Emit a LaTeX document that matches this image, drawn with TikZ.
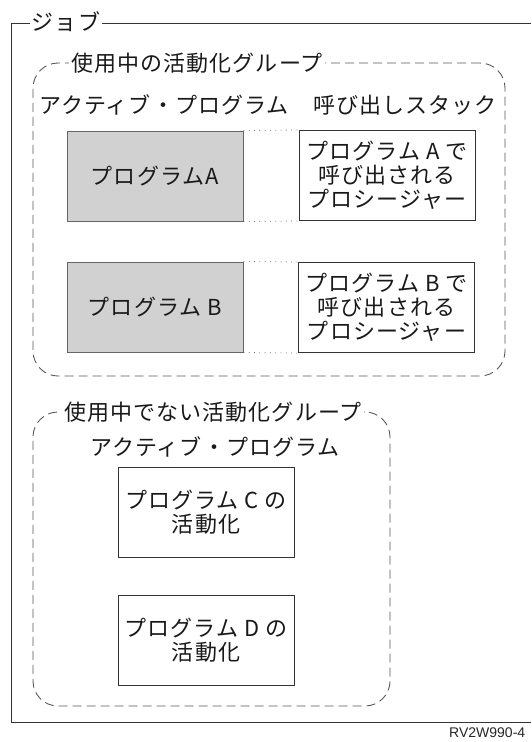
\documentclass[tikz,border=0pt]{standalone}
\usepackage{fontspec}
\setmainfont{Noto Sans CJK JP}[LetterSpace=5]
\newfontfamily\latinfont{Liberation Sans}
\begin{document}
\begin{tikzpicture}[x=1pt,y=-1pt,
  jp/.style={font=\fontsize{22}{24}\selectfont, inner sep=0pt, text=black!90},
  ttl/.style={jp, fill=white, inner xsep=2pt, inner ysep=2pt},
  grp/.style={draw=black!65, dash pattern=on 9pt off 5pt, line width=0.9pt, rounded corners=25pt},
  prog/.style={jp, draw=black!60, fill=black!18, line width=1pt, minimum width=176pt, minimum height=90pt},
  stackbox/.style={jp, draw=black!80, fill=white, line width=1pt, align=center, minimum width=176pt, minimum height=90pt},
  dots/.style={draw=black!60, line width=0.8pt, dash pattern=on 0.8pt off 4.5pt}]
\useasboundingbox (0,0) rectangle (531,742);
% job frame
\coordinate (jtr) at (531,23);
\coordinate (jtl) at (11,23);
\coordinate (jbl) at (11,722);
\coordinate (jbr) at (531,722);
\draw[line width=0.9pt, draw=black!80] (jtr) -- (jtl) -- (jbl) -- (jbr);
\node[ttl] (job) at (66,22) {ジョブ};
% active group
\node[grp, minimum width=472pt, minimum height=313pt] (ag) at (269,219.5) {};
\node[ttl] (agt) at (197,63) {使用中の活動化グループ};
\node[jp] (apa) at (164,105) {アクティブ・プログラム};
\node[jp] (cs) at (405,105) {呼び出しスタック};
\node[prog] (pa) at (155,176) {プログラムA};
\node[stackbox] (ca) at (387,175.5) {プログラム A で\\呼び出される\\プロシージャー};
\node[prog] (pb) at (155,307) {プログラム B};
\node[stackbox] (cb) at (386.5,307.5) {プログラム B で\\呼び出される\\プロシージャー};
\draw[dots] (pa.north east) -- (ca.north west);
\draw[dots] (pa.south east) -- (ca.south west);
\draw[dots] (pb.north east) -- (cb.north west);
\draw[dots] (pb.south east) -- (cb.south west);
% inactive group
\node[grp, minimum width=357pt, minimum height=294pt] (ig) at (211.5,559) {};
\node[ttl] (igt) at (213,412) {使用中でない活動化グループ};
\node[jp] (apb) at (215,447) {アクティブ・プログラム};
\node[stackbox] (pc) at (206,512) {プログラム C の\\活動化};
\node[stackbox] (pd) at (206,640) {プログラム D の\\活動化};
% figure id
\node[font=\latinfont\fontsize{14}{16}\selectfont, anchor=north west, inner sep=0pt, text=black!85] (fid) at (449,728) {RV2W990-4};
\end{tikzpicture}
\end{document}
